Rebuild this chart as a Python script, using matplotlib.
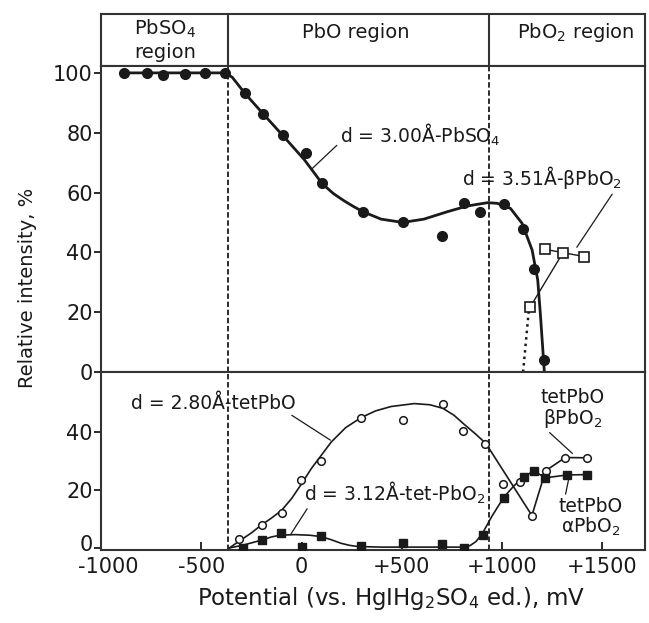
import matplotlib
matplotlib.use("Agg")
import matplotlib.pyplot as plt  # noqa: E402
from matplotlib.transforms import ScaledTranslation  # noqa: E402

plt.rcParams["font.family"] = ["DejaVu Sans"]
plt.rcParams["mathtext.fontset"] = "dejavusans"
plt.rcParams["mathtext.default"] = "regular"

# --- upper panel: d = 3.00 A PbSO4 (filled circles) ---
pbso4_x = [-885, -769, -691, -580, -481, -382, -283, -190, -91, 21, 104, 306,
           505, 700, 810, 888, 1009, 1105, 1161, 1208]
pbso4_y = [100, 100, 99.3, 99.6, 100, 100, 93.2, 86.2, 79.3, 73.1, 63.1, 53.4,
           50.1, 45.3, 56.4, 53.6, 56.2, 47.7, 34.3, 4.0]
pbso4_fit_x = [-885, -380, -345, -283, -190, -91, 15, 104, 160, 213, 260, 306,
               397, 505, 610, 728, 827, 927, 976, 1042, 1100, 1150, 1178, 1191,
               1207, 1211]
pbso4_fit_y = [100, 100, 98.5, 93.2, 86.2, 78.9, 70.9, 62.9, 59.6, 57.2, 55.3,
               53.6, 51.1, 50.0, 51.1, 53.6, 55.5, 56.6, 56.4, 54.7, 49.7, 40.8,
               30.8, 19.6, 4.0, 0]

# d = 3.51 A beta-PbO2 (open squares)
bpbo2_x = [1141, 1216, 1304, 1409]
bpbo2_y = [21.8, 41.0, 39.9, 38.6]
bpbo2_dot_x = [1105, 1133]
bpbo2_dot_y = [0, 20.2]

# --- lower panel: d = 2.80 A tetPbO (open circles) ---
tet_x = [-314, -199, -99, -3, 99, 298, 505, 704, 804, 915, 1003, 1092, 1149,
         1217, 1315, 1426]
tet_y = [3.0, 7.9, 11.9, 23.5, 29.9, 45.0, 44.2, 49.7, 40.3, 36.0, 22.0, 22.8,
         11.2, 26.6, 31.2, 31.1]
tet_fit_x = [-360, -314, -250, -199, -150, -99, -50, -3, 50, 99, 149, 220, 298,
             370, 447, 562, 640, 704, 760, 812, 870, 920, 1149, 1217, 1315, 1426]
tet_fit_y = [0, 2.2, 5.2, 8.0, 10.3, 13.0, 17.0, 21.8, 27.5, 32.0, 36.6, 41.5,
             45.0, 47.3, 48.8, 49.8, 49.4, 48.2, 45.8, 42.6, 39.2, 36.0, 11.2,
             26.6, 31.2, 31.1]

# d = 3.12 A tet-PbO2 (filled squares)
tpbo2_x = [-294, -195, -101, 0, 99, 298, 505, 699, 809, 903, 1010, 1110, 1158,
           1216, 1326, 1424]
tpbo2_y = [0, 2.6, 5.0, 0.5, 4.3, 0.7, 1.6, 1.2, 0, 4.6, 17.4, 24.5, 26.6,
           24.2, 25.2, 25.3]
tpbo2_fit_x = [-360, -290, -199, -150, -108, -33, 40, 99, 150, 198, 240, 281,
               400, 600, 800, 840, 870, 902, 950, 1009, 1060, 1110, 1158, 1216,
               1326, 1424]
tpbo2_fit_y = [0, 1.0, 2.7, 3.8, 4.4, 4.6, 4.4, 3.9, 2.8, 1.6, 0.9, 0.5, 0.3,
               0.3, 0.3, 0.8, 2.2, 5.0, 11.0, 17.5, 21.5, 24.5, 26.6, 24.2,
               25.2, 25.3]

region_edges = [-365, 935]
x_ticks = [-1000, -500, 0, 500, 1000, 1500]
x_tick_labels = ["-1000", "-500", "0", "+500", "+1000", "+1500"]

INK = "#1a1a1a"
FRAME = "#333333"

fig = plt.figure(figsize=(6.49, 6.23), dpi=100)
L, W = 101 / 649, 544 / 649
ax_head = fig.add_axes([L, 1 - 66 / 623, W, 52 / 623])
ax_top = fig.add_axes([L, 1 - 372 / 623, W, 306 / 623])
ax_bot = fig.add_axes([L, 1 - 550 / 623, W, 178 / 623])

for ax in (ax_head, ax_top, ax_bot):
    ax.set_xlim(-1000, 1713)
    for sp in ax.spines.values():
        sp.set_linewidth(1.5)
        sp.set_color(FRAME)

# header with region names
ax_head.set_ylim(0, 1)
ax_head.set_xticks([])
ax_head.set_yticks([])
for xe in region_edges:
    ax_head.axvline(xe, color=FRAME, lw=1.5)
ax_head.text(-682, 0.5, "PbSO$_4$\nregion", ha="center", va="center",
             fontsize=14, linespacing=1.2, color=INK)
ax_head.text(270, 0.64, "PbO region", ha="center", va="center", fontsize=14, color=INK)
ax_head.text(1370, 0.64, "PbO$_2$ region", ha="center", va="center", fontsize=14,
             color=INK)

# upper panel
ax_top.set_ylim(0, 102.3)
ax_top.set_yticks([0, 20, 40, 60, 80, 100])
ax_top.set_xticks([])
ax_top.tick_params(axis="y", direction="out", length=5, width=1.3, labelsize=15,
                   pad=1, colors=INK)
ax_top.plot(pbso4_fit_x, pbso4_fit_y, color=INK, lw=2.0, zorder=3)
ax_top.plot(pbso4_x, pbso4_y, "o", color=INK, ms=7, zorder=4)
ax_top.plot(bpbo2_x[1:], bpbo2_y[1:], color=INK, lw=1.0, zorder=3)
ax_top.plot([bpbo2_x[0], bpbo2_x[2]], [bpbo2_y[0], bpbo2_y[2]], color=INK, lw=1.0,
            zorder=3)
ax_top.plot(bpbo2_dot_x, bpbo2_dot_y, color=INK, lw=1.8, ls=(0, (1, 1.6)), zorder=3)
ax_top.plot(bpbo2_x, bpbo2_y, "s", mfc="white", mec=INK, mew=1.2, ms=7, zorder=5)
for xe in region_edges:
    ax_top.axvline(xe, color=INK, lw=1.3, ls=(0, (3, 1.5)), zorder=2)

ax_top.annotate("d = 3.00Å-PbSO$_4$", xy=(53, 68), xytext=(190, 79.3),
                fontsize=13.5, va="center", ha="left", color=INK,
                arrowprops=dict(arrowstyle="-", color=INK, lw=0.9,
                                shrinkA=0, shrinkB=0, relpos=(0, 0.2)))
ax_top.annotate("d = 3.51Å-βPbO$_2$", xy=(1373, 41.7), xytext=(800, 64.9),
                fontsize=13.5, va="center", ha="left", color=INK,
                arrowprops=dict(arrowstyle="-", color=INK, lw=0.9,
                                shrinkA=0, shrinkB=0, relpos=(0.95, 0.0)))

# lower panel
ax_bot.set_ylim(-0.7, 60.7)
ax_bot.set_yticks([0, 20, 40])
ax_bot.tick_params(axis="y", direction="out", length=5, width=1.3, labelsize=15,
                   pad=1, colors=INK)
ax_bot.set_xticks(x_ticks)
ax_bot.set_xticklabels(x_tick_labels)
ax_bot.tick_params(axis="x", direction="in", length=6, width=1.3, labelsize=15,
                   pad=5, colors=INK)

# nudge the corner labels apart, as in the original
lbl0 = ax_bot.get_yticklabels()[0]
lbl0.set_transform(lbl0.get_transform() + ScaledTranslation(0, 3.5 / 72, fig.dpi_scale_trans))
lblx0 = ax_bot.get_xticklabels()[0]
lblx0.set_transform(lblx0.get_transform() + ScaledTranslation(5 / 72, 0, fig.dpi_scale_trans))

ax_bot.plot(tet_fit_x, tet_fit_y, color=INK, lw=1.2, zorder=3)
ax_bot.plot(tpbo2_fit_x, tpbo2_fit_y, color=INK, lw=1.2, zorder=3)
ax_bot.plot(tet_x, tet_y, "o", mfc="white", mec=INK, mew=1.1, ms=5.5, zorder=5)
ax_bot.plot(tpbo2_x, tpbo2_y, "s", color=INK, ms=5.5, zorder=5)
for xe in region_edges:
    ax_bot.axvline(xe, color=INK, lw=1.3, ls=(0, (3, 1.5)), zorder=2)

ax_bot.annotate("d = 2.80Å-tetPbO", xy=(144, 37.2), xytext=(-850, 50),
                fontsize=13.5, va="center", ha="left", color=INK,
                arrowprops=dict(arrowstyle="-", color=INK, lw=0.9,
                                shrinkA=0, shrinkB=0, relpos=(0.95, 0.0)))
ax_bot.annotate("d = 3.12Å-tet-PbO$_2$", xy=(-55, 4.6), xytext=(10, 19),
                fontsize=13.5, va="center", ha="left", color=INK,
                arrowprops=dict(arrowstyle="-", color=INK, lw=0.9,
                                shrinkA=0, shrinkB=0, relpos=(0.03, 0.0)))
ax_bot.annotate("tetPbO\nβPbO$_2$", xy=(1351, 32.6), xytext=(1350, 48),
                fontsize=13.5, va="center", ha="center", color=INK,
                linespacing=1.0,
                arrowprops=dict(arrowstyle="-", color=INK, lw=0.9,
                                shrinkA=0, shrinkB=0, relpos=(0.1, 0.0)))
ax_bot.annotate("tetPbO\nαPbO$_2$", xy=(1331, 23.3), xytext=(1442, 10.5),
                fontsize=13.5, va="center", ha="center", color=INK,
                linespacing=1.0,
                arrowprops=dict(arrowstyle="-", color=INK, lw=0.9,
                                shrinkA=0, shrinkB=0, relpos=(0.1, 1.0)))

fig.text(28 / 649, 1 - 288 / 623, "Relative intensity, %", rotation=90,
         ha="center", va="center", fontsize=14, color=INK)
fig.text(391 / 649, 1 - 599 / 623, "Potential (vs. HgIHg$_2$SO$_4$ ed.), mV",
         ha="center", va="center", fontsize=16.5, color=INK)

fig.savefig("out.png", dpi=100)
